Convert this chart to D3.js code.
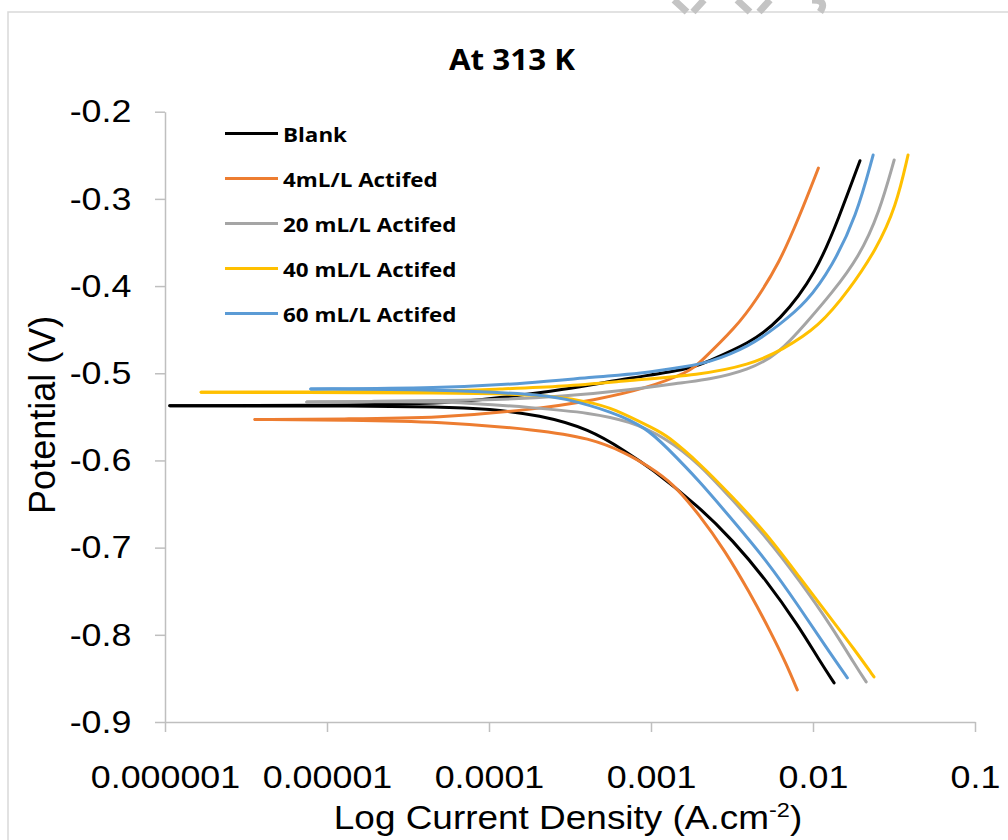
<!DOCTYPE html>
<html>
<head>
<meta charset="utf-8">
<script src="https://cdn.jsdelivr.net/npm/d3@7"></script>
<style>
    body { margin: 0; background: #fff; }
    svg { display: block; }
</style>
</head>
<body>
<svg id="chart" width="1008" height="840"></svg>
<script>
// Tafel curves: [current density (A/cm2), potential (V)],
// each branch runs from the corrosion potential outwards.
const blankCath = [[1.07e-6, -0.5372], [3.34e-6, -0.5375], [1.38e-5, -0.5375], [4.95e-5, -0.5383],
    [1.01e-4, -0.5409], [2.05e-4, -0.5479], [4.17e-4, -0.5639], [7.05e-4, -0.5903],
    [9.77e-4, -0.6075], [1.99e-3, -0.6533], [3.18e-3, -0.6912], [5.14e-3, -0.7371],
    [8.22e-3, -0.7910], [1.09e-2, -0.8288], [1.35e-2, -0.8552]];
const blankAnod = [[1.07e-6, -0.5372], [3.34e-6, -0.5370], [1.38e-5, -0.5364], [4.95e-5, -0.5352],
    [1.16e-4, -0.5283], [2.84e-4, -0.5192], [7.36e-4, -0.5054], [1.73e-3, -0.4954],
    [2.20e-3, -0.4870], [4.05e-3, -0.4656], [6.19e-3, -0.4408], [1.05e-2, -0.3850],
    [1.45e-2, -0.3208], [1.95e-2, -0.2562]];

const act4Cath = [[3.59e-6, -0.5530], [1.38e-5, -0.5536], [4.95e-5, -0.5555], [2.05e-4, -0.5650],
    [4.17e-4, -0.5742], [7.05e-4, -0.5914], [9.77e-4, -0.6075], [1.36e-3, -0.6258],
    [1.99e-3, -0.6625], [2.84e-3, -0.7026], [4.05e-3, -0.7508], [5.60e-3, -0.8001],
    [6.84e-3, -0.8334], [8.00e-3, -0.8632]];
const act4Anod = [[3.59e-6, -0.5530], [1.38e-5, -0.5524], [4.95e-5, -0.5513], [1.78e-4, -0.5421],
    [4.60e-4, -0.5306], [9.38e-4, -0.5172], [1.73e-3, -0.4982], [1.99e-3, -0.4882],
    [3.37e-3, -0.4467], [4.47e-3, -0.4159], [6.19e-3, -0.3735], [8.22e-3, -0.3208],
    [1.08e-2, -0.2646]];

const act20Cath = [[7.50e-6, -0.5329], [1.97e-5, -0.5329], [4.95e-5, -0.5318], [2.05e-4, -0.5398],
    [4.17e-4, -0.5455], [7.36e-4, -0.5547], [1.24e-3, -0.5742], [1.99e-3, -0.6040],
    [3.18e-3, -0.6453], [5.14e-3, -0.6878], [8.22e-3, -0.7371], [1.31e-2, -0.7910],
    [1.85e-2, -0.8369], [2.13e-2, -0.8540]];
const act20Anod = [[7.50e-6, -0.5329], [1.97e-5, -0.5323], [4.95e-5, -0.5312], [1.05e-4, -0.5306],
    [2.84e-4, -0.5268], [7.36e-4, -0.5192], [1.73e-3, -0.5096], [2.20e-3, -0.5077],
    [4.05e-3, -0.4962], [6.19e-3, -0.4771], [9.08e-3, -0.4423], [1.31e-2, -0.4079],
    [1.93e-2, -0.3663], [2.56e-2, -0.3162], [3.17e-2, -0.2554]];

const act40Cath = [[1.67e-6, -0.5218], [6.79e-6, -0.5220], [4.95e-5, -0.5226], [2.05e-4, -0.5237],
    [4.17e-4, -0.5329], [5.78e-4, -0.5398], [1.08e-3, -0.5650], [1.24e-3, -0.5708],
    [1.99e-3, -0.6029], [3.18e-3, -0.6419], [5.14e-3, -0.6832], [8.22e-3, -0.7336],
    [1.31e-2, -0.7829], [1.79e-2, -0.8162], [2.38e-2, -0.8483]];
const act40Anod = [[1.67e-6, -0.5218], [6.79e-6, -0.5214], [4.95e-5, -0.5209], [1.16e-4, -0.5180],
    [2.84e-4, -0.5154], [7.36e-4, -0.5083], [1.99e-3, -0.5019], [4.05e-3, -0.4905],
    [6.46e-3, -0.4733], [1.09e-2, -0.4466], [1.67e-2, -0.4045], [2.45e-2, -0.3586],
    [3.26e-2, -0.3089], [3.86e-2, -0.2497]];

const act60Cath = [[7.94e-6, -0.5180], [4.95e-5, -0.5186], [2.05e-4, -0.5243], [2.84e-4, -0.5283],
    [5.78e-4, -0.5440], [9.38e-4, -0.5627], [1.24e-3, -0.5845], [1.99e-3, -0.6235],
    [3.18e-3, -0.6683], [5.14e-3, -0.7141], [8.22e-3, -0.7680], [1.20e-2, -0.8139],
    [1.63e-2, -0.8494]];
const act60Anod = [[7.94e-6, -0.5180], [4.95e-5, -0.5172], [1.78e-4, -0.5115], [4.60e-4, -0.5039],
    [8.47e-4, -0.5008], [1.73e-3, -0.4916], [2.20e-3, -0.4885], [4.05e-3, -0.4695],
    [6.19e-3, -0.4446], [9.08e-3, -0.4194], [1.31e-2, -0.3778], [1.85e-2, -0.3204],
    [2.35e-2, -0.2497]];

const seriesNames = ['Blank', '4mL/L Actifed', '20 mL/L Actifed', '40 mL/L Actifed', '60 mL/L Actifed'];
const seriesBranches = [[blankCath, blankAnod], [act4Cath, act4Anod], [act20Cath, act20Anod],
    [act40Cath, act40Anod], [act60Cath, act60Anod]];

const xTickValues = [1e-6, 1e-5, 1e-4, 1e-3, 1e-2, 1e-1];
const xTickLabels = ['0.000001', '0.00001', '0.0001', '0.001', '0.01', '0.1'];
const yTickValues = [-0.9, -0.8, -0.7, -0.6, -0.5, -0.4, -0.3, -0.2];
const yTickLabels = ['-0.9', '-0.8', '-0.7', '-0.6', '-0.5', '-0.4', '-0.3', '-0.2'];

const colors = ['#000000', '#ED7D31', '#A5A5A5', '#FFC000', '#5B9BD5'];
const stretch = 1.12; // picture is a little wider than tall

const svg = d3.select('#chart');
const plot = { left: 165, right: 975, top: 111.7, bottom: 722 };

const x = d3.scaleLog()
    .domain([1e-6, 0.1])
    .range([plot.left, plot.right]);
const y = d3.scaleLinear()
    .domain([-0.9, -0.2])
    .range([plot.bottom, plot.top]);

// chart area frame and the clipped watermark at the very top
svg.append('rect')
    .attr('x', 8).attr('y', 12)
    .attr('width', 1100).attr('height', 900)
    .style('fill', '#fff')
    .style('stroke', '#D9D9D9')
    .style('stroke-width', 1.5);

svg.append('path')
    .attr('d', 'M674,0 L687,12 M704,0 L693,12 M737,0 L750,12 M770,0 L759,12 M812,0 Q828,0 820,12')
    .style('fill', 'none')
    .style('stroke', '#C4C4C4')
    .style('stroke-width', 7);

svg.append('text')
    .attr('transform', `translate(512, 70) scale(${stretch}, 1)`)
    .attr('text-anchor', 'middle')
    .style('font-family', '"Open Sans", sans-serif')
    .style('font-weight', 'bold')
    .style('font-size', '28px')
    .text('At 313 K');

// axes
const xAxis = svg.append('g')
    .attr('transform', `translate(0, ${plot.bottom})`)
    .call(d3.axisBottom(x)
        .tickValues(xTickValues)
        .tickFormat((d, i) => xTickLabels[i])
        .tickSizeInner(10)
        .tickSizeOuter(0));

const yAxis = svg.append('g')
    .attr('transform', `translate(${plot.left}, 0)`)
    .call(d3.axisLeft(y)
        .tickValues(yTickValues)
        .tickFormat((d, i) => yTickLabels[i])
        .tickSizeInner(10)
        .tickSizeOuter(0)
        .tickPadding(20));

[xAxis, yAxis].forEach(g => {
    g.selectAll('path, line')
        .style('stroke', '#BFBFBF')
        .style('stroke-width', 1.5);
    g.selectAll('text')
        .style('font-family', '"Liberation Sans", Arial, sans-serif')
        .style('font-size', '32px')
        .style('fill', '#000')
        .attr('transform', `scale(${stretch}, 1)`);
});
xAxis.selectAll('text')
    .attr('dy', 0)
    .attr('y', 66);

svg.append('text')
    .attr('transform', `translate(${(plot.left + plot.right) / 2 - 2}, 829) scale(${stretch}, 1)`)
    .attr('text-anchor', 'middle')
    .style('font-family', '"Liberation Sans", Arial, sans-serif')
    .style('font-size', '33px')
    .call(t => {
        t.append('tspan').text('Log Current Density (A.cm');
        t.append('tspan').attr('dy', -12).style('font-size', '21px').text('-2');
        t.append('tspan').attr('dy', 12).text(')');
    });

svg.append('text')
    .attr('transform', `translate(55, ${(plot.top + plot.bottom) / 2 - 2}) rotate(-90)`)
    .attr('text-anchor', 'middle')
    .style('font-family', '"Liberation Sans", Arial, sans-serif')
    .style('font-size', '36px')
    .text('Potential (V)');

// curves
const line = d3.line()
    .x(d => x(d[0]))
    .y(d => y(d[1]))
    .curve(d3.curveBasis);

seriesBranches.forEach((branches, i) => {
    svg.append('g')
        .selectAll('path')
        .data(branches)
        .enter()
        .append('path')
        .attr('d', line)
        .style('fill', 'none')
        .style('stroke', colors[i])
        .style('stroke-width', 3)
        .style('stroke-linecap', 'round');
});

// legend
const legend = svg.append('g')
    .selectAll('g')
    .data(seriesNames)
    .enter()
    .append('g')
    .attr('transform', (d, i) => `translate(225, ${133.5 + i * 45})`);

legend.append('line')
    .attr('x1', 0).attr('x2', 53)
    .style('stroke', (d, i) => colors[i])
    .style('stroke-width', 3);

legend.append('text')
    .attr('transform', `translate(58, 8) scale(${stretch}, 1)`)
    .style('font-family', '"Open Sans", sans-serif')
    .style('font-weight', 'bold')
    .style('font-size', '20px')
    .text(d => d);
</script>
</body>
</html>
